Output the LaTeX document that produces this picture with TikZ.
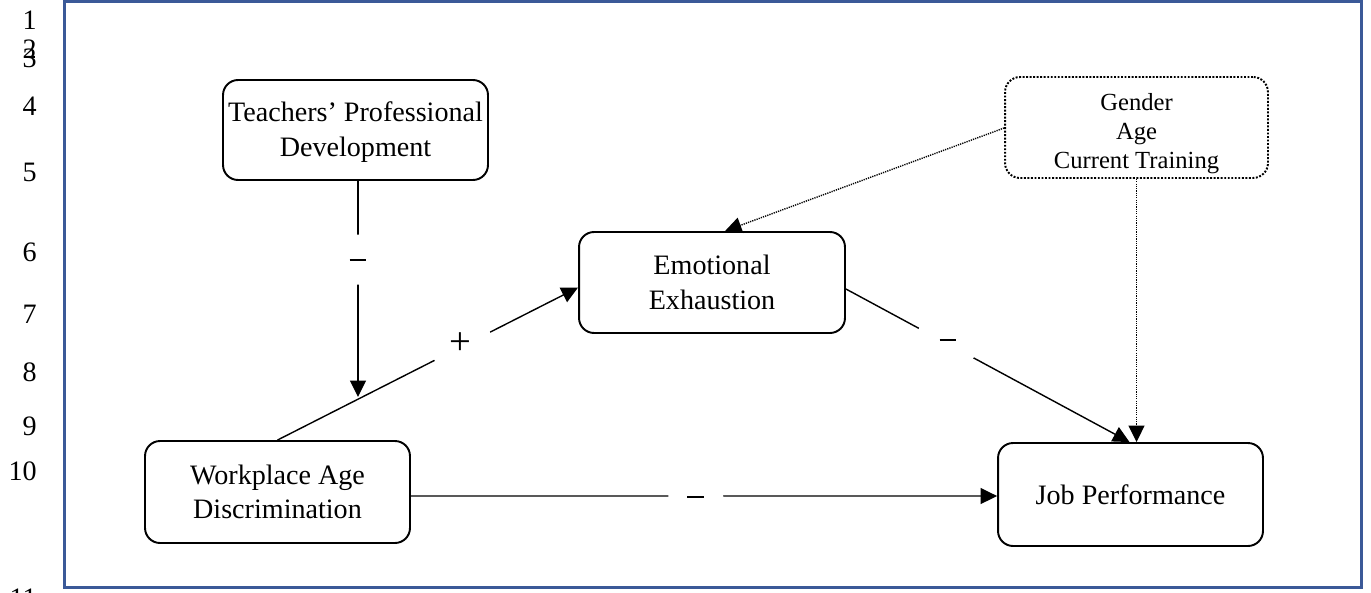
\documentclass[tikz,border=0pt]{standalone}
\usepackage{fontspec}
\setmainfont{Liberation Serif}
\usetikzlibrary{arrows.meta,calc}
\definecolor{frameblue}{RGB}{59,89,152}
\newcommand{\mysign}{\rule{9.5pt}{1.1pt}}
\begin{document}
\begin{tikzpicture}[x=0.02cm,y=-0.02cm,
 box/.style={draw, line width=1.1pt, rounded corners=0.3cm, align=center, font=\fontsize{16}{19.5}\selectfont, inner sep=0pt},
 ctrlbox/.style={draw, line width=1.1pt, dash pattern=on 1.1pt off 0.9pt, rounded corners=0.3cm, align=center, font=\fontsize{14}{16.5}\selectfont, inner sep=0pt},
 conn/.style={line width=0.8pt, -{Triangle[length=3.3mm,width=3.2mm]}},
 dotconn/.style={conn, dash pattern=on 0.7pt off 0.6pt},
 gap/.style={circle, fill=white, inner sep=0pt, font=\fontsize{16}{19}\selectfont},
 lnum/.style={anchor=east, font=\fontsize{16}{19}\selectfont, inner sep=0pt}]
\useasboundingbox (0,0) rectangle (1371,592);
% frame
\draw[frameblue, line width=1.7pt] (64.5,1.5) rectangle (1361,587);
% line numbers
\foreach \n/\y in {1/20,2/49,3/58,4/106,5/172,6/252,7/314,8/372,9/426,10/471,11/598}
  \node[lnum] (ln\n) at (37,\y) {\n};
% boxes
\node[box, minimum width=5.3cm, minimum height=2cm] (teach) at (355.5,130) {\raisebox{-1.2pt}[\height][\depth]{\parbox{5.2cm}{\centering Teachers’ Professional\\Development}}};
\node[box, minimum width=5.32cm, minimum height=2.02cm] (emo) at (712,282.5) {Emotional\\Exhaustion};
\node[box, minimum width=5.3cm, minimum height=2.04cm] (work) at (277.5,492) {Workplace Age\\Discrimination};
\node[box, minimum width=5.3cm, minimum height=2.06cm] (job) at (1130.5,494.5) {Job Performance};
\node[ctrlbox, minimum width=5.26cm, minimum height=2.02cm] (ctrl) at (1136.5,127.5) {\raisebox{-3.6pt}[\height][\depth]{\parbox{5.1cm}{\centering Gender\\Age\\Current Training}}};
% connectors
\coordinate (tip) at (358,397);
\draw[conn] (teach.south -| tip) -- node[gap, minimum size=1.0cm, pos=0.378, yshift=1.7pt] (m1) {\mysign} (tip);
\draw[conn] (work.north) -- node[gap, minimum size=1.25cm, pos=0.61, yshift=2.1pt, font=\fontsize{22}{24}\selectfont] (p1) {+} ($(emo.west)+(0,5)$);
\draw[conn] ($(emo.east)+(0,6.5)$) -- node[gap, minimum size=1.25cm, pos=0.36, yshift=2.5pt] (m2) {\mysign} ($(job.north)+(-1,0)$);
\draw[dotconn] ($(ctrl.west)+(0,0.5)$) -- ($(emo.north)+(13,0)$);
\draw[dotconn] (ctrl.south) -- (ctrl.south |- job.north);
\draw[conn] ($(work.east)+(0,4)$) -- node[gap, minimum size=1.1cm, pos=0.486, yshift=-0.5pt] (m3) {\mysign} ($(job.west)+(0,1.5)$);
\end{tikzpicture}
\end{document}
